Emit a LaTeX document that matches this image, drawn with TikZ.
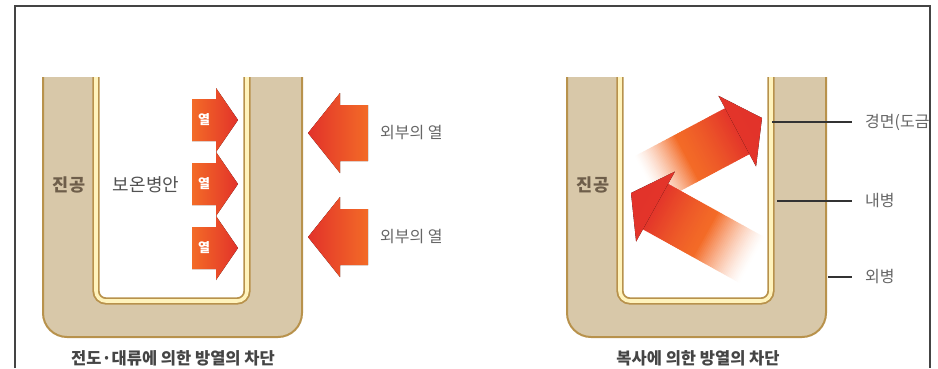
\documentclass[tikz,border=0pt]{standalone}
\usepackage{fontspec}
\usepackage{tikz}
\usetikzlibrary{positioning}
\newfontfamily\kr{Noto Sans CJK KR}
\definecolor{flasktan}{HTML}{D8C8A9}
\definecolor{flaskgold}{HTML}{B8924C}
\definecolor{flaskcream}{HTML}{FFF3BC}
\definecolor{heatred}{HTML}{E2322A}
\definecolor{heatorange}{HTML}{F36B27}
\definecolor{labelgray}{HTML}{666666}
\definecolor{titlegray}{HTML}{454545}
\definecolor{vacbrown}{HTML}{6E5E4A}
\definecolor{framegray}{HTML}{444444}
\pgfdeclarehorizontalshading{rayhead}{100bp}{color(0bp)=(heatred!92!heatorange); color(25bp)=(heatred!92!heatorange); color(75bp)=(heatred); color(100bp)=(heatred)}
\tikzset{
  wallfill/.style={fill=flasktan,rounded corners=24pt},
  wallrim/.style={draw=flaskgold,line width=2pt,rounded corners=24pt},
  wallinner/.style={draw=flaskgold,line width=1.8pt,double=flaskcream,double distance=3.6pt,rounded corners=10pt},
  heatsmall/.style={left color=heatorange,right color=heatred},
  heatbig/.style={left color=heatred,right color=heatorange},
  heattext/.style={font=\kr\bfseries\fontsize{13}{13}\selectfont,text=white,inner sep=0pt},
  vaclabel/.style={font=\kr\bfseries\fontsize{17.5}{18}\selectfont,text=vacbrown,inner sep=0pt},
  sidelabel/.style={font=\kr\fontsize{16}{16}\selectfont,text=labelgray,anchor=west,inner sep=0pt},
  partlabel/.style={sidelabel,inner xsep=13pt},
  figcaption/.style={font=\kr\bfseries\fontsize{16.5}{17}\selectfont,text=titlegray},
  leader/.style={draw=black!80,line width=2.4pt}
}

\begin{document}
\begin{tikzpicture}[x=1pt,y=-1pt]
\useasboundingbox (0,0) rectangle (938,368);
% the two flasks
\foreach \ox in {0,524}{
  \begin{scope}[shift={(\ox,0)}]
    \fill[wallfill] (43,77) -- (43,337) -- (302,337) -- (302,77);
    \fill[white,rounded corners=10pt] (96,77) -- (96,301) -- (247,301) -- (247,77);
  \end{scope}
}
% radiation, reflected at the mirror coating (tail fades out in slices)
\foreach \px/\py/\ang/\len in {762/118/28/130,631/193/151/138}{
  \begin{scope}[shift={(\px,\py)},rotate=\ang]
    \pgfmathsetmacro\w{(\len-84)/30}
    \foreach \s in {0,...,29}{
      \pgfmathsetmacro\p{100*((\s+1)/30)^1.4}
      \fill[heatorange!\p!white] (-\len+\s*\w,-26) rectangle (-\len+\s*\w+\w+0.7,26);
    }
    \foreach \s in {0,...,27}{
      \pgfmathsetmacro\q{92*((\s+1)/28)^1.3}
      \fill[heatred!\q!heatorange] (-84+\s*2,-26) rectangle (-84+\s*2+2.7,26);
    }
    \fill[shading=rayhead,shading angle=\ang] (0,0) -- (-28,-40) -- (-28,40) -- cycle;
  \end{scope}
}
\foreach \ox in {0,524}{
  \begin{scope}[shift={(\ox,0)}]
    \draw[wallinner] (96,77) -- (96,301) -- (247,301) -- (247,77);
    \draw[wallrim] (43,77) -- (43,337) -- (302,337) -- (302,77);
  \end{scope}
}
% conduction / convection
\foreach \y/\n in {120/1,184/2,248/3}{
  \fill[heatsmall] (192,\y-21) -- (216,\y-21) -- (216,\y-32) -- (238,\y) -- (216,\y+32) -- (216,\y+21) -- (192,\y+21) -- cycle;
  \node[heattext] (heat\n) at (204,\y) {열};
}
\foreach \y/\n in {133/1,237/2}{
  \fill[heatbig] (308,\y) -- (340,\y-40) -- (340,\y-28) -- (368,\y-28) -- (368,\y+28) -- (340,\y+28) -- (340,\y+40) -- cycle;
  \node[sidelabel] (outside\n) at (380,\y) {외부의 열};
}
\node[vaclabel] (vacleft) at (69,185) {진공};
\node[font=\kr\fontsize{18}{18}\selectfont,text=black!68,inner sep=0pt] (inside) at (146,185) {보온병안};
\node[vaclabel] (vacright) at (593,185) {진공};
% parts of the flask
\coordinate (mirrorpt) at (772,122);
\coordinate (innerpt) at (777,201);
\coordinate (outerpt) at (828,277);
\begin{scope}
  \clip (0,0) rectangle (929,368);
  \node[partlabel] (mirror) at (852,122) {경면(도금)};
  \node[partlabel] (innerwall) at (852,201) {내병};
  \node[partlabel] (outerwall) at (852,277) {외병};
\end{scope}
\draw[leader] (mirrorpt) -- (mirror.west);
\draw[leader] (innerpt) -- (innerwall.west);
\draw[leader] (outerpt) -- (outerwall.west);
\node[figcaption] (capleft) at (173,358) {전도·대류에 의한 방열의 차단};
\node[figcaption] (capright) at (698,358) {복사에 의한 방열의 차단};
\draw[framegray,line width=1.5pt] (15,368) -- (15,6) -- (930,6) -- (930,368);
\end{tikzpicture}
\end{document}
